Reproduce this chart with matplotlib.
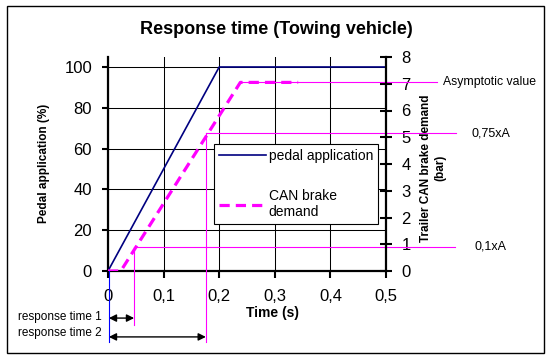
import matplotlib
matplotlib.use("Agg")
import matplotlib.pyplot as plt
from matplotlib.patches import Rectangle
from matplotlib.transforms import blended_transform_factory

plt.rcParams['font.family'] = ['Liberation Sans', 'DejaVu Sans']

# ---- data ----
title = "Response time (Towing vehicle)"
time_pedal = [0.0, 0.2, 0.5]
pedal = [0, 100, 100]
time_can = [0.0, 0.023, 0.238, 0.342]
can = [0.0, 0.0, 7.05, 7.05]
x_ticks = [0, 0.1, 0.2, 0.3, 0.4, 0.5]
x_tick_labels = ['0', '0,1', '0,2', '0,3', '0,4', '0,5']
left_ticks = [0, 20, 40, 60, 80, 100]
right_ticks = [0, 1, 2, 3, 4, 5, 6, 7, 8]
asym_level = 7.05
level_75 = 5.15
level_10 = 0.9
t_resp1 = 0.047
t_resp2 = 0.176
ref_labels = ["Asymptotic value", "0,75xA", "0,1xA"]

W, H = 550, 359
fig = plt.figure(figsize=(5.5, 3.59), dpi=100)
fig.patch.set_facecolor('white')

def fx(px):
    return px / W

def fy(py):
    return 1 - py / H

ax = fig.add_axes([fx(108), fy(271), fx(386) - fx(108), fy(57) - fy(271)])
ax.set_xlim(0, 0.5)
ax.set_ylim(0, 104.9)
ax2 = ax.twinx()
ax2.set_ylim(0, 8)

# grid
ax.set_xticks(x_ticks)
ax.set_xticklabels(x_tick_labels)
ax.set_yticks(left_ticks)
ax.grid(True, color='black', lw=0.75)
ax.set_axisbelow(True)

ax.spines['top'].set_visible(False)
ax2.spines['top'].set_visible(False)
ax.spines['right'].set_visible(False)
ax2.spines['left'].set_visible(False)
ax2.spines['bottom'].set_visible(False)
for sp in [ax.spines['left'], ax.spines['bottom'], ax2.spines['right']]:
    sp.set_linewidth(1.6)

ax.tick_params(axis='y', direction='out', length=4.5, width=1.5, pad=7, labelsize=12)
ax.tick_params(axis='x', direction='out', length=5, width=1.5, pad=8, labelsize=12)
ax2.set_yticks(right_ticks)
ax2.tick_params(axis='y', direction='inout', length=8, width=1.5, pad=7, labelsize=12)

# data lines
l1, = ax.plot(time_pedal, pedal, color='#000080', lw=1.2, label='pedal application', zorder=3)
l2, = ax2.plot(time_can, can, color='#FF00FF', lw=2.3, dashes=(3.2, 1.9),
               label='CAN brake\ndemand', zorder=3)

# reference lines (magenta), extending outside the plot
mag = '#FF00FF'
ref_end = [0.592, 0.626, 0.624]
ax2.plot([time_can[2], ref_end[0]], [asym_level, asym_level], color=mag, lw=0.8, clip_on=False, zorder=2)
ax2.plot([t_resp2, ref_end[1]], [level_75, level_75], color=mag, lw=0.8, clip_on=False, zorder=2)
ax2.plot([t_resp1, ref_end[2]], [level_10, level_10], color=mag, lw=0.8, clip_on=False, zorder=2)

# vertical response markers (bottom in axes fraction -> bar units)
ymax2 = 8
ax2.plot([t_resp1, t_resp1], [level_10, -0.252 * ymax2], color=mag, lw=0.8, clip_on=False, zorder=2)
ax2.plot([t_resp2, t_resp2], [level_75, -0.332 * ymax2], color=mag, lw=0.8, clip_on=False, zorder=2)
ax2.plot([0.0015, 0.0015], [0, -0.332 * ymax2], color='#0000FF', lw=0.8, clip_on=False, zorder=2)

ax2.text(0.603, asym_level, ref_labels[0], fontsize=8.8, va='center', ha='left', clip_on=False)
ax2.text(0.653, level_75, ref_labels[1], fontsize=9, va='center', ha='left', clip_on=False)
ax2.text(0.660, level_10, ref_labels[2], fontsize=9, va='center', ha='left', clip_on=False)

# response time arrows
tr = blended_transform_factory(ax.transData, ax.transAxes)
for t, yf in [(t_resp1, -0.220), (t_resp2, -0.308)]:
    ax.annotate('', xy=(t, yf), xytext=(0.0015, yf), xycoords=tr, textcoords=tr,
                arrowprops=dict(arrowstyle='<|-|>', color='black', lw=1.0,
                                shrinkA=0, shrinkB=0, mutation_scale=11),
                annotation_clip=False)
ax.text(-0.022, -0.216, 'response time 1', transform=ax.transAxes, fontsize=8.5, ha='right', va='center')
ax.text(-0.022, -0.290, 'response time 2', transform=ax.transAxes, fontsize=8.5, ha='right', va='center')

# legend
leg = ax2.legend(handles=[l1, l2], loc='upper left',
                 bbox_to_anchor=(fx(214), fy(144)), bbox_transform=fig.transFigure,
                 borderaxespad=0, fontsize=10, handlelength=3.4, handletextpad=0.2,
                 labelspacing=1.9, borderpad=0.35, fancybox=False, framealpha=1,
                 edgecolor='black')
leg.get_frame().set_linewidth(0.8)

# titles and labels
fig.text(fx(276), fy(29), title, ha='center', va='center', fontsize=13, fontweight='bold')
fig.text(fx(44), fy(163), 'Pedal application (%)', rotation=90, ha='center', va='center',
         fontsize=8.5, fontweight='bold')
fig.text(fx(433), fy(168), 'Trailer CAN brake demand\n(bar)', rotation=90, ha='center',
         va='center', multialignment='center', fontsize=8.5, fontweight='bold')
fig.text(fx(273), fy(313), 'Time (s)', ha='center', va='center', fontsize=10, fontweight='bold')

# outer frame
fig.add_artist(Rectangle((fx(7), fy(353)), fx(544) - fx(7), fy(6) - fy(353),
                         transform=fig.transFigure, fill=False, edgecolor='black', lw=1.0))

fig.savefig('out.png', dpi=100)
